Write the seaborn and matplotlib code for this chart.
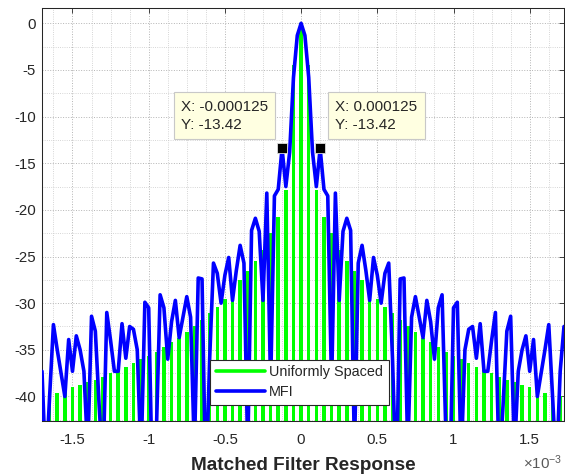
import numpy as np
import matplotlib
matplotlib.use("Agg")
import matplotlib.pyplot as plt
from matplotlib.lines import Line2D
from matplotlib.ticker import MultipleLocator, FuncFormatter
import seaborn as sns

# ---- data -------------------------------------------------------------
# MFI response, sampled every 25 us from -1.700 ms to +1.725 ms (dB)
mfi_step = 0.025e-3
mfi_index = np.arange(-68, 70)
mfi_db = [
    -37.3, -48.0, -40.0, -32.3, -35.0, -37.5, -40.0, -33.9, -37.3, -33.5,
    -35.0, -37.3, -46.0, -31.4, -33.0, -41.0, -48.0, -31.0, -34.0, -37.3,
    -37.3, -32.2, -35.9, -32.5, -32.8, -35.0, -47.0, -29.9, -30.5, -50.0,
    -44.0, -29.1, -30.5, -36.0, -32.0, -29.7, -33.7, -31.5, -29.3, -31.5,
    -46.0, -27.3, -27.4, -50.0, -36.0, -25.7, -26.8, -30.0, -27.0, -25.1,
    -29.7, -26.5, -23.8, -25.7, -46.0, -22.2, -20.9, -22.3, -29.7, -18.2,
    -39.0, -18.5, -17.8, -13.42, -17.5, -13.8, -5.8, -1.3,
    0.0,
    -1.3, -5.8, -13.8, -17.5, -13.42, -17.8, -18.5, -39.0, -18.2, -29.7,
    -22.3, -20.9, -22.2, -46.0, -25.7, -23.8, -26.5, -29.7, -25.1, -27.0,
    -30.0, -26.8, -25.7, -36.0, -50.0, -27.4, -27.3, -46.0, -31.5, -29.3,
    -31.5, -33.7, -29.7, -32.0, -36.0, -30.5, -29.1, -44.0, -50.0, -30.5,
    -29.9, -47.0, -35.0, -32.8, -32.5, -35.9, -32.2, -37.3, -37.3, -34.0,
    -31.0, -48.0, -41.0, -33.0, -31.4, -46.0, -37.3, -35.0, -33.5, -37.3,
    -33.9, -40.0, -37.5, -35.0, -32.3, -40.0, -48.0, -37.3, -32.5,
]

# Uniformly spaced response, one sample every 50 us (dB)
uniform_step = 0.05e-3
uniform_index = np.arange(-34, 35)
uniform_db = [
    -40.0, -39.8, -39.6, -39.3, -39.0, -38.8, -38.5, -38.2, -37.9, -37.5,
    -37.2, -36.8, -36.4, -36.0, -35.7, -35.2, -34.7, -34.2, -33.7, -33.1,
    -32.5, -31.8, -31.1, -30.4, -29.5, -28.6, -27.5, -26.5, -25.5, -24.3,
    -22.5, -20.8, -17.9, -4.5,
    0.0,
    -4.5, -17.9, -20.8, -22.5, -24.3, -25.5, -26.5, -27.5, -28.6, -29.5,
    -30.4, -31.1, -31.8, -32.5, -33.1, -33.7, -34.2, -34.7, -35.2, -35.7,
    -36.0, -36.4, -36.8, -37.2, -37.5, -37.9, -38.2, -38.5, -38.8, -39.0,
    -39.3, -39.6, -39.8, -40.0,
]

# data tips on the first MFI sidelobes
tip_delays = [-0.000125, 0.000125]
tip_db = -13.42

series_labels = ["Uniformly Spaced", "MFI"]
xlabel_text = "Matched Filter Response"

# ---- style ------------------------------------------------------------
sns.set_style("white")
plt.rcParams["font.family"] = ["Liberation Sans", "DejaVu Sans"]
plt.rcParams["axes.unicode_minus"] = False
plt.rcParams["mathtext.fontset"] = "custom"
plt.rcParams["mathtext.rm"] = "Liberation Sans"
plt.rcParams["mathtext.it"] = "Liberation Sans:italic"
plt.rcParams["mathtext.bf"] = "Liberation Sans:bold"

ink = "#262626"
green = "#00ff00"
blue = "#0000ff"
tick_fs = 10.8
tip_fs = 11.0
legend_fs = 10.4

fig = plt.figure(figsize=(5.65, 4.75), dpi=100)
ax = fig.add_axes([42 / 565, 54 / 475, 522 / 565, 413 / 475])

mfi_delay = mfi_index * mfi_step
uniform_delay = uniform_index * uniform_step
floor = -60.0

ax.bar(uniform_delay, np.asarray(uniform_db) - floor, bottom=floor,
       width=0.023e-3, color=green, linewidth=0, zorder=2)
sns.lineplot(x=mfi_delay, y=mfi_db, ax=ax, color=blue, linewidth=2.6,
             zorder=3, legend=False)

ax.set_xlim(-1.7e-3, 1.725e-3)
ax.set_ylim(-42.63, 1.64)

ax.xaxis.set_major_locator(MultipleLocator(0.5e-3))
ax.xaxis.set_minor_locator(MultipleLocator(0.125e-3))
ax.yaxis.set_major_locator(MultipleLocator(5))
ax.yaxis.set_minor_locator(MultipleLocator(2.5))
ax.xaxis.set_major_formatter(
    FuncFormatter(lambda v, p: f"{round(v * 1e3, 6) + 0.0:g}"))

ax.set_axisbelow(True)
ax.grid(True, which="major", ls=":", color="#b4b4b4", lw=0.7)
ax.grid(True, which="minor", ls=":", color="#c8c8c8", lw=0.6)

ax.tick_params(axis="both", which="major", direction="in", length=3.6,
               width=0.6, top=True, right=True, labelsize=tick_fs,
               colors=ink)
ax.tick_params(axis="x", which="major", pad=9.0)
ax.tick_params(axis="y", which="major", pad=4.5)
ax.tick_params(axis="both", which="minor", length=0)
for s in ax.spines.values():
    s.set_visible(True)
    s.set_color(ink)
    s.set_linewidth(0.75)

ax.set_xlabel(xlabel_text, fontsize=13.7, fontweight="bold", color=ink,
              labelpad=6.5)
ax.text(0.9215, -0.1, r"$\times10^{-3}$", transform=ax.transAxes,
        ha="left", va="center", fontsize=tick_fs, color="#595959")

# data tip markers and boxes
ax.plot(tip_delays, [tip_db] * len(tip_delays), ls="none", marker="s",
        ms=7.5, mfc="black", mec="#dddddd", mew=0.6, zorder=5)
for x in tip_delays:
    left_side = x < 0
    ax.annotate(f"X: {x:g}\nY: {tip_db:.2f}", xy=(x, tip_db),
                xytext=(-14.0 if left_side else 15.0, 16.5),
                textcoords="offset pixels",
                ha="right" if left_side else "left", va="bottom",
                multialignment="left",
                fontsize=tip_fs, color=ink, linespacing=1.4, zorder=6,
                bbox=dict(boxstyle="square,pad=0.48", fc="#ffffe1",
                          ec="#c8c8c8", lw=0.8))

handles = [Line2D([], [], color=green, lw=2.6),
           Line2D([], [], color=blue, lw=2.6)]
leg = ax.legend(handles, series_labels, loc="lower left",
                bbox_to_anchor=(0.3218, 0.0387), borderaxespad=0,
                fancybox=False, framealpha=1, edgecolor=ink,
                fontsize=legend_fs, handlelength=3.4, handletextpad=0.3,
                borderpad=0.4, labelspacing=0.4)
leg.get_frame().set_linewidth(0.8)
for t in leg.get_texts():
    t.set_color(ink)

fig.savefig("out.png", dpi=100)
